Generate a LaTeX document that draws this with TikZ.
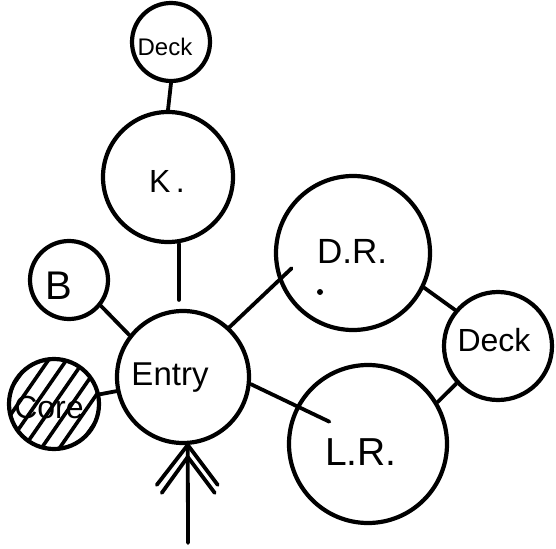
\documentclass[tikz,border=0pt]{standalone}
\usepackage{fontspec}
\setmainfont{Liberation Sans}
\usetikzlibrary{calc}
\begin{document}
\begin{tikzpicture}[x=1pt,y=-1pt,
  room/.style={draw, circle, line width=4.2pt, inner sep=0pt, minimum size=#1},
  link/.style={line width=3.8pt, line cap=round},
  lbl/.style={inner sep=0pt, font=\fontsize{#1}{#1}\selectfont}]
\useasboundingbox[fill=white] (0,0) rectangle (556,548);
% rooms
\node[room=78pt]  (deckA) at (171,42)  {};
\node[room=130pt] (k)     at (168,177) {};
\node[room=132pt] (entry) at (183,377) {};
\node[room=78pt]  (b)     at (69,280)  {};
\node[room=154pt] (dr)    at (353,253) {};
\node[room=108pt] (deckB) at (498,346) {};
\node[room=158pt] (lr)    at (368,444) {};
% core with hatching
\node[circle, inner sep=0pt, minimum size=90pt] (core) at (54,404) {};
\begin{scope}
  \clip (core.center) circle[radius=45];
  \foreach \i in {-4,...,4}
    \draw[line width=3.6pt] ($(core.center)+(\i*18-45,65)$) -- ++(90,-130);
\end{scope}
\draw[line width=4.2pt] (core.center) circle[radius=45];
% labels
\node[lbl=24] (tdeckA) at (165,47)  {Deck};
\node[lbl=32] (tk)     at (167,181) {K\,.};
\node[lbl=33] (tentry) at (170,378) {Entry};
\node[lbl=40] (tb)     at (59,286)  {B};
\node[lbl=35] (tdr)    at (352,251) {D.R.};
\node[lbl=32] (tdeckB) at (494,340) {Deck};
\node[lbl=39] (tlr)    at (361,452) {L.R.};
\node[lbl=32] (tcore)  at (49,407)  {Core};
\node[circle, fill, inner sep=0pt, minimum size=6pt] (drdot) at (320,292) {};
% connectors
\draw[link] (deckA.south) -- (k.north);
\draw[link] ([xshift=11pt]k.south) -- ([xshift=-4pt,yshift=9pt]entry.north);
\draw[link] (b.-39) -- (entry.142);
\draw[link] (core.12) -- (entry.192);
\draw[link] (entry.47) -- ($(dr.center)!0.8!(dr.194)$);
\draw[link] (dr.-26) -- (deckB.140);
\draw[link] (entry.-6) -- ($(lr.center)!0.55!(lr.150)$);
\draw[link] (lr.31) -- (deckB.222);
% entrance arrow
\coordinate (apex) at (entry.-86);
\coordinate (tail) at (188,543);
\draw[link] (tail) -- (apex);
\draw[link] (apex) -- ++(-31,40);
\draw[link] (apex) -- ++(30,40);
\draw[link] ($(apex)+(0,12)$) -- ++(-26,36);
\draw[link] ($(apex)+(0,12)$) -- ++(27,36);
\end{tikzpicture}
\end{document}
